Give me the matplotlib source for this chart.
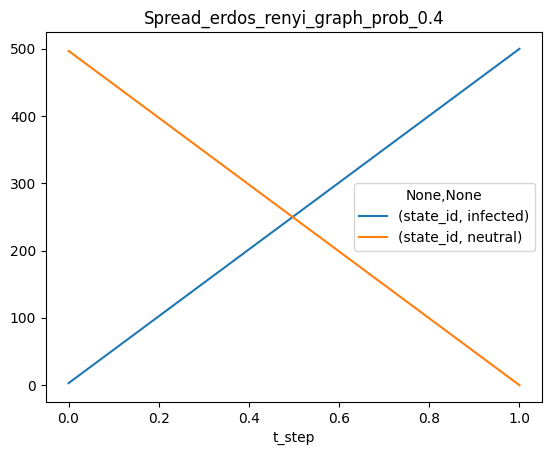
import matplotlib
matplotlib.use("Agg")
import matplotlib.pyplot as plt

t_step = [0.0, 1.0]
infected = [3, 500]
neutral = [497, 0]
labels = ["(state_id, infected)", "(state_id, neutral)"]

fig, ax = plt.subplots(figsize=(5.52, 4.55), dpi=100)
ax.plot(t_step, infected, label=labels[0])
ax.plot(t_step, neutral, label=labels[1])
ax.set_xlabel("t_step")
ax.set_title("Spread_erdos_renyi_graph_prob_0.4")
ax.legend(title="None,None", loc="center right")
fig.subplots_adjust(left=46 / 552, right=542 / 552, top=1 - 32 / 455, bottom=1 - 402 / 455)
fig.savefig("out.png")
